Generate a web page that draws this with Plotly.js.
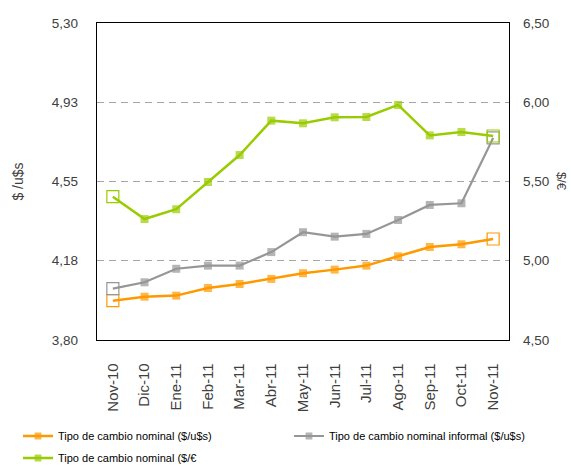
<!DOCTYPE html>
<html>
<head>
<meta charset="utf-8">
<script src="https://cdn.plot.ly/plotly-3.0.1.min.js"></script>
<style>html,body{margin:0;padding:0;background:#fff;}#chart{width:571px;height:466px;}</style>
</head>
<body>
<div id="chart"></div>
<script>
var categories = ['Nov-10','Dic-10','Ene-11','Feb-11','Mar-11','Abr-11','May-11','Jun-11','Jul-11','Ago-11','Sep-11','Oct-11','Nov-11'];
var oficialUsd = [3.986, 4.005, 4.010, 4.046, 4.065, 4.089, 4.116, 4.133, 4.152, 4.196, 4.240, 4.253, 4.278];
var informalUsd = [4.043, 4.073, 4.137, 4.152, 4.152, 4.216, 4.310, 4.289, 4.302, 4.368, 4.439, 4.447, 4.756];
var oficialEur = [5.404, 5.263, 5.325, 5.497, 5.667, 5.884, 5.867, 5.905, 5.907, 5.983, 5.791, 5.812, 5.787];
var leftTicks = [3.80, 4.175, 4.55, 4.925, 5.30];
var leftTickText = ['3,80', '4,18', '4,55', '4,93', '5,30'];
var rightTicks = [4.5, 5.0, 5.5, 6.0, 6.5];
var rightTickText = ['4,50', '5,00', '5,50', '6,00', '6,50'];
var names = ['Tipo de cambio nominal ($/u$s)', 'Tipo de cambio nominal informal ($/u$s)', 'Tipo de cambio nominal ($/€'];

var FONT = '"Liberation Sans", Arial, sans-serif';
var n = categories.length;
var W = 571, H = 466;
var L = 97, R = 62, T = 23, B = 126;
var plotW = W - L - R, plotH = H - T - B;

function mainTrace(y, name, color, axis, w, legend){
  var sizes = [];
  for (var i = 0; i < n; i++) sizes.push(i === 0 || i === n - 1 ? 0 : 8);
  return {
    x: categories, y: y, name: name, type: 'scatter', mode: 'lines+markers',
    yaxis: axis, legend: legend,
    line: {color: color, width: w},
    marker: {color: color, symbol: 'square', size: sizes, line: {width: 0}}
  };
}
function endTrace(y, color, axis){
  return {
    x: [categories[0], categories[n - 1]], y: [y[0], y[n - 1]],
    type: 'scatter', mode: 'markers', yaxis: axis, showlegend: false, hoverinfo: 'skip',
    marker: {color: color, symbol: 'square-open', size: 12, line: {color: color, width: 1.2}}
  };
}

var data = [
  mainTrace(oficialUsd, names[0], '#FF9900', 'y', 2.5, 'legend'),
  mainTrace(informalUsd, names[1], '#969696', 'y', 2.2, 'legend3'),
  mainTrace(oficialEur, names[2], '#99CC00', 'y2', 2.5, 'legend2'),
  endTrace(oficialUsd, '#FF9900', 'y'),
  endTrace(informalUsd, '#969696', 'y'),
  endTrace(oficialEur, '#99CC00', 'y2')
];

var tickFont = {family: FONT, size: 13.5, color: '#404040'};
var legendFont = {family: FONT, size: 11, color: '#000'};
function px2x(px){ return (px - L) / plotW; }
function px2y(py){ return (T + plotH - py) / plotH; }
function legendAt(px, py){
  return {orientation: 'h', xref: 'container', yref: 'container',
          x: px / W, xanchor: 'left', y: 1 - py / H, yanchor: 'middle', font: legendFont};
}

var layout = {
  width: W, height: H,
  margin: {l: L, r: R, t: T, b: B},
  paper_bgcolor: '#fff', plot_bgcolor: '#fff',
  font: {family: FONT, size: 12, color: '#404040'},
  showlegend: true,
  legend: legendAt(18, 436),
  legend3: legendAt(289, 436),
  legend2: legendAt(18, 458),
  xaxis: {
    type: 'category', range: [-0.5, n - 0.5],
    tickangle: -90, showgrid: false, zeroline: false,
    showline: true, linecolor: '#000', linewidth: 1.3, mirror: true,
    ticks: '', tickfont: {family: FONT, size: 15, color: '#404040'},
    ticklabelstandoff: 16
  },
  yaxis: {
    range: [3.80, 5.30], tickvals: leftTicks, ticktext: leftTickText,
    showgrid: true, gridcolor: '#A6A6A6', griddash: '7px,5px', gridwidth: 1,
    zeroline: false, showline: true, linecolor: '#000', linewidth: 1.3,
    ticks: '', ticklabelstandoff: 15, tickfont: tickFont,
    title: {text: '$ /u$s', font: {family: FONT, size: 14, color: '#404040'}, standoff: 24}
  },
  yaxis2: {
    range: [4.5, 6.5], tickvals: rightTicks, ticktext: rightTickText,
    overlaying: 'y', side: 'right', showgrid: false, zeroline: false,
    showline: true, linecolor: '#000', linewidth: 1.3,
    ticks: '', ticklabelstandoff: 10, tickfont: tickFont
  },
  annotations: [{
    text: '$/€', xref: 'paper', yref: 'paper', x: px2x(562), y: px2y(181),
    xanchor: 'center', yanchor: 'middle', showarrow: false, textangle: 90,
    font: {family: FONT, size: 13, color: '#404040'}
  }]
};

Plotly.newPlot('chart', data, layout, {displayModeBar: false, staticPlot: true});
</script>
</body>
</html>
